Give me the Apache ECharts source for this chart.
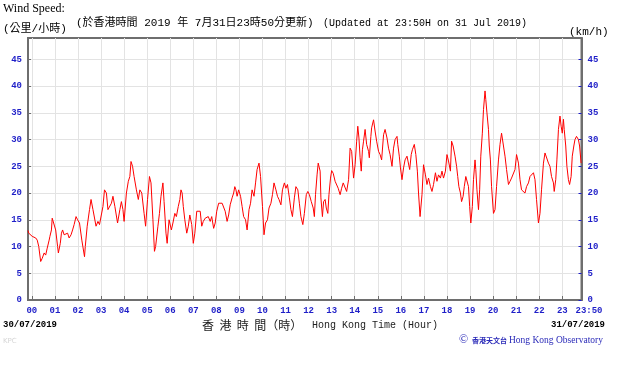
<!DOCTYPE html>
<html>
<head>
<meta charset="utf-8">
<script src="https://cdn.jsdelivr.net/npm/echarts@6/dist/echarts.min.js"></script>
<style>
html,body{margin:0;padding:0;background:#fff;}
#chart{width:629px;height:366px;}
</style>
</head>
<body>
<div id="chart"></div>
<script>
// minutes after 00:00 on 31/07/2019 (negative = previous day)
const minutes = [
-10,-8,1,10,14,18,23,27,32,36,40,45,47,51,53,58,62,67,69,74,77,80,84,89,93,97,102,106,110,115,119,124,130,137,139,144,150,154,159,163,167,172,176,181,185,189,194,198,202,207,211,216,223,229,233,237,240,246,251,255,258,262,266,272,277,281,286,292,296,301,306,310,315,319,322,328,332,336,341,344,349,352,357,
363,367,372,376,381,385,388,391,394,398,403,407,411,416,420,424,429,431,438,442,446,451,455,459,464,468,473,477,481,486,490,495,499,503,508,512,516,521,525,528,531,534,538,543,547,551,556,560,565,569,573,578,582,586,591,595,600,604,608,613,617,622,626,630,635,639,643,648,652,657,661,665,670,674,678,683,687,692,696,700,705,709,714,718,722,727,
732,735,738,742,745,750,752,756,759,763,766,770,773,777,780,784,789,793,797,802,806,810,815,819,824,828,832,837,841,845,848,851,854,857,860,863,867,871,876,878,882,884,889,893,897,902,906,910,915,919,924,928,932,937,941,945,950,952,956,959,963,967,971,976,980,983,987,990,995,999,1003,1006,1010,1015,1019,1024,1028,1032,1037,1041,1045,1050,1054,1058,1063,1067,1071,1076,1080,1084,1089,
1092,1096,1101,1105,1108,1111,1115,1118,1122,1125,1129,1132,1136,1139,1142,1146,1149,1153,1155,1158,1162,1165,1168,1172,1175,1179,1181,1184,1188,1190,1193,1196,1201,1205,1209,1214,1218,1222,1227,1231,1235,1240,1244,1248,1253,1257,1261,1266,1270,1274,1279,1283,1287,1292,1296,1300,1305,1309,1313,1318,1322,1326,1331,1335,1339,1344,1348,1352,1357,1359,1363,1366,1370,1374,1377,1380,1383,1385,1389,1392,1396,1399,1403,1406,1410,1413,1417,1422,1425,1429,1430
];
// wind speed (km/h)
const speeds = [
13,12.5,11.9,11.6,11.2,10,7.2,7.8,8.8,8.4,9.7,11.2,11.9,13.1,15.3,15,13.1,10,8.8,10.6,12.5,13.1,12.2,11.9,12.5,11.6,12.2,13.1,14.1,15.6,15,14.4,11.2,8.1,10,13.8,16.9,18.8,16.9,16.6,13.8,14.7,14.1,14.1,17.5,20.6,20,16.9,16.6,18.1,19.4,17.5,14.4,16.9,18.4,16.9,14.7,20,22.2,23.1,25.9,25,23.1,20.6,18.8,20.6,20,16.2,13.8,18.8,23.1,21.9,15,9.1,10,13.8,16.2,19.4,21.9,18.4,12.5,10.6,15,
13.1,14.4,16.2,15.6,17.5,18.8,20.6,20,17.5,15,12.5,13.8,15.9,14.1,10.6,12.5,16.6,16.9,16.6,13.8,14.7,15.3,15,15.6,14.7,15.6,13.4,14.4,16.6,18.1,17.8,18.1,18.4,16.6,14.7,15.9,17.8,19.1,20,21.2,20.6,19.4,20.6,19.4,17.5,15.6,15,13.1,16.9,18.1,20.6,19.4,21.9,24.4,25.6,23.1,17.5,12.2,14.4,15,17.2,18.1,19.7,21.9,20.6,19.4,18.8,17.8,20.6,21.9,20.9,21.6,19.1,16.9,15.6,19.1,21.2,20.6,18.1,15.6,14.1,16.2,19.7,20.3,19.7,18.4,
17.2,15.6,19.7,23.4,25.6,24.1,19.1,15.6,18.4,18.8,17.2,16.2,19.7,22.8,24.2,23.7,22.2,21.9,20.9,19.7,20.9,21.9,22.2,20.3,22.5,28.4,27.8,22.8,25.3,29.7,32.5,30.3,26.6,24.1,28.1,29.7,31.9,29.1,27.8,26.6,30.6,32.2,33.7,31.6,29.7,27.8,27.2,26.2,30.9,31.9,30.3,28.4,27.2,25,28.4,30,30.6,29.1,26.9,24.7,22.5,24.7,26.2,26.9,26.6,24.4,27.2,28.1,29.1,27.2,24.1,20,15.6,19.7,25.3,23.4,21.6,22.8,21.2,20.3,21.6,23.8,22.2,23.4,22.8,24.1,22.8,24.1,27.2,26,24.1,
29.7,28.8,26.9,25,23.1,21.2,20,18.4,19.4,21.2,23.1,22.8,21.2,17.5,14.4,17.5,22.5,26.2,24.4,20.6,16.9,20.6,26.9,31.2,35.6,39.1,37.5,35,31.9,28.8,26.2,21.2,16.2,16.9,21.2,26.2,29.1,31.2,31.2,26.9,24.4,21.6,22.2,22.8,23.1,24.4,27.2,25.6,22.5,20.6,20.9,20,21.2,21.9,23.1,22.8,23.8,22.5,18.8,14.4,16.2,20.6,25.6,27.5,27.8,25.6,25,23.1,21.9,20.3,22.5,26.2,31.9,34.4,32.5,31.2,33.8,31.9,28.8,25,22.5,21.6,23.1,26.9,28.8,30,30.6,30,28.8,25.6,25.5
];
const hourTicks = [0,60,120,180,240,300,360,420,480,540,600,660,720,780,840,900,960,1020,1080,1140,1200,1260,1320,1380,1430];
const hourLabels = ['00','01','02','03','04','05','06','07','08','09','10','11','12','13','14','15','16','17','18','19','20','21','22','23','23:50'];
const yTicks = [0,5,10,15,20,25,30,35,40,45];

const BLUE = '#1f1fc8';
const labelMap = {};
hourTicks.forEach((t, i) => { labelMap[t] = hourLabels[i]; });

const chart = echarts.init(document.getElementById('chart'), null, {renderer: 'canvas'});
const monoBold = '"Liberation Mono", "DejaVu Sans Mono", monospace';

const yAxisBase = {
  type: 'value', min: 0, max: 49,
  axisLine: {show: true, onZero: false, lineStyle: {color: '#6e6e6e', width: 2}},
  axisTick: {show: true, inside: true, customValues: yTicks, length: 3, lineStyle: {color: '#6e6e6e'}},
  axisLabel: {customValues: yTicks, color: BLUE, fontFamily: monoBold, fontWeight: 'bold', fontSize: 9, margin: 6}
};

chart.setOption({
  animation: false,
  backgroundColor: '#ffffff',
  grid: {left: 28, right: 47.5, top: 38, bottom: 66, show: true, borderColor: '#6e6e6e', borderWidth: 2, backgroundColor: 'transparent'},
  xAxis: {
    type: 'value', min: -10, max: 1430,
    axisLine: {show: true, onZero: false, lineStyle: {color: '#6e6e6e', width: 2}},
    axisTick: {show: true, inside: true, length: 4, customValues: hourTicks, lineStyle: {color: '#6e6e6e'}},
    axisLabel: {
      customValues: hourTicks,
      color: BLUE, fontFamily: monoBold, fontWeight: 'bold', fontSize: 9, margin: 6,
      formatter: v => v === 1430 ? '{r|23:50}' : labelMap[v],
      rich: {r: {color: BLUE, fontFamily: monoBold, fontWeight: 'bold', fontSize: 9, padding: [0, 0, 0, 15]}}
    },
    splitLine: {show: true, lineStyle: {color: '#e3e3e3', width: 1}}
  },
  yAxis: [
    Object.assign({}, yAxisBase, {position: 'left', splitLine: {show: true, lineStyle: {color: '#e3e3e3', width: 1}}}),
    Object.assign({}, yAxisBase, {position: 'right', splitLine: {show: false},
      axisTick: {show: true, inside: true, customValues: yTicks, length: 3, lineStyle: {color: BLUE}}})
  ],
  series: [{
    type: 'line',
    data: minutes.map((m, i) => [m, speeds[i]]),
    showSymbol: false,
    lineStyle: {color: '#ff0000', width: 1},
    itemStyle: {color: '#ff0000'},
    silent: true
  }],
  graphic: [
    {type: 'text', x: 3, y: 9, style: {text: 'Wind Speed:', font: '12px "Liberation Serif", serif', fill: '#000', textVerticalAlign: 'middle'}},
    {type: 'text', x: 3, y: 29, style: {text: '(公里/小時)', font: '11px "Liberation Mono", "Noto Sans CJK TC", monospace', fill: '#000', textVerticalAlign: 'middle'}},
    {type: 'text', x: 76, y: 23, style: {text: '(於香港時間 2019 年 7月31日23時50分更新)', font: '11px "Liberation Mono", "Noto Sans CJK TC", monospace', fill: '#000', textVerticalAlign: 'middle'}},
    {type: 'text', x: 323, y: 23, style: {text: '(Updated at 23:50H on 31 Jul 2019)', font: '10px "Liberation Mono", monospace', fill: '#000', textVerticalAlign: 'middle'}},
    {type: 'text', x: 569, y: 32, style: {text: '(km/h)', font: '11px "Liberation Mono", monospace', fill: '#000', textVerticalAlign: 'middle'}},
    {type: 'text', x: 3, y: 324.5, style: {text: '30/07/2019', font: 'bold 9px "Liberation Mono", monospace', fill: '#000', textVerticalAlign: 'middle'}},
    {type: 'text', x: 605, y: 324.5, style: {text: '31/07/2019', font: 'bold 9px "Liberation Mono", monospace', fill: '#000', textAlign: 'right', textVerticalAlign: 'middle'}},
    {type: 'text', x: 202, y: 325, style: {text: '香  港  時  間（時）', font: '12px "Noto Sans CJK TC", sans-serif', fill: '#222', textVerticalAlign: 'middle'}},
    {type: 'text', x: 312, y: 325, style: {text: 'Hong Kong Time (Hour)', font: '10px "Liberation Mono", monospace', fill: '#222', textVerticalAlign: 'middle'}},
    {type: 'text', x: 459, y: 340, style: {text: '©', font: '12px "Liberation Serif", serif', fill: '#2a2ab8', textVerticalAlign: 'middle'}},
    {type: 'text', x: 472, y: 340, style: {text: '香港天文台', font: 'bold 7px "Noto Sans CJK TC", sans-serif', fill: '#2a2ab8', textVerticalAlign: 'middle'}},
    {type: 'text', x: 509, y: 340, style: {text: 'Hong Kong Observatory', font: '9.5px "Liberation Serif", serif', fill: '#2a2ab8', textVerticalAlign: 'middle'}},
    {type: 'text', x: 3, y: 341, style: {text: 'KPC', font: '7px "DejaVu Sans", sans-serif', fill: '#d6d6d6', textVerticalAlign: 'middle'}}
  ]
});
</script>
</body>
</html>
